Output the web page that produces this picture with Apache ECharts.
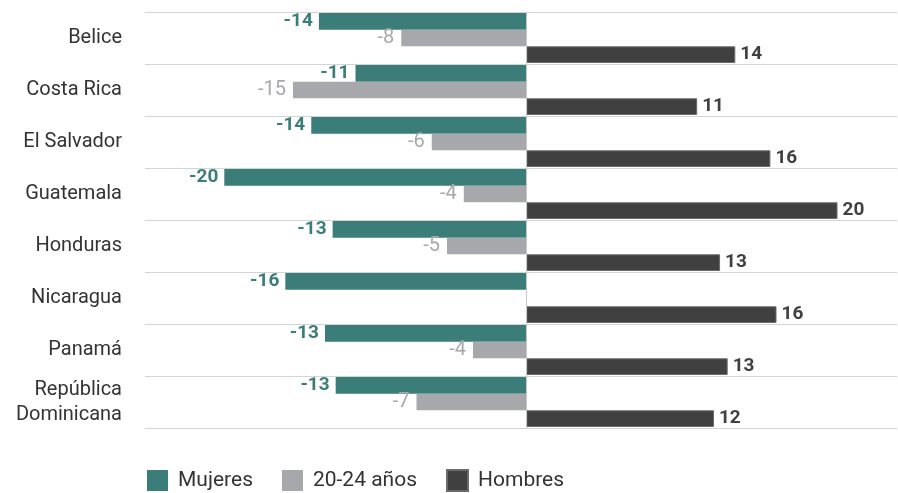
<!DOCTYPE html>
<html>
<head>
<meta charset="utf-8">
<script src="https://cdn.jsdelivr.net/npm/echarts@6/dist/echarts.min.js"></script>
<style>
html,body{margin:0;padding:0;background:#fff;}
#chart{width:898px;height:493px;}
</style>
</head>
<body>
<div id="chart"></div>
<script>
var categories = ['Belice', 'Costa Rica', 'El Salvador', 'Guatemala', 'Honduras', 'Nicaragua', 'Panamá', 'República\nDominicana'];
var mujeres = [-13.6, -11.2, -14.1, -19.8, -12.7, -15.8, -13.2, -12.5];
var jovenes = [-8.2, -15.3, -6.2, -4.1, -5.2, null, -3.5, -7.2];
var hombres = [13.7, 11.2, 16.0, 20.4, 12.7, 16.4, 13.2, 12.3];
var seriesNames = ['Mujeres', '20-24 años', 'Hombres'];

var FONT = 'Roboto';
var C_M = '#3b7d78', C_J = '#a7a8ab', C_H = '#404040';

function fmt(p) {
  var v = p.value;
  if (v == null) return '';
  var r = Math.round(Math.abs(v));
  return (v < 0 ? '-' : '') + r;
}

var chart = echarts.init(document.getElementById('chart'), null, {renderer: 'canvas'});
chart.setOption({
  animation: false,
  textStyle: {fontFamily: FONT},
  grid: {left: 145, right: 1, top: 12, bottom: 65, containLabel: false},
  legend: {
    data: seriesNames,
    left: 147, top: 469, padding: 0,
    icon: 'rect', itemWidth: 21, itemHeight: 21, itemGap: 29,
    textStyle: {fontFamily: FONT, fontSize: 21, color: '#333', padding: [0, 0, 0, 5]}
  },
  xAxis: {
    type: 'value', min: -25, max: 24.3,
    axisLabel: {show: false}, axisLine: {show: false}, axisTick: {show: false},
    splitLine: {show: false}
  },
  yAxis: {
    type: 'category', data: categories, inverse: true,
    axisLine: {show: false}, axisTick: {show: false},
    axisLabel: {fontFamily: FONT, fontSize: 20, color: '#333', margin: 23, lineHeight: 25, align: 'right', padding: [3, 0, 0, 0]},
    splitLine: {show: true, lineStyle: {color: '#d4d4d4', width: 1}}
  },
  series: [
    {
      name: seriesNames[0], type: 'bar', data: mujeres,
      barGap: '0%', barCategoryGap: '4%',
      itemStyle: {color: C_M},
      label: {show: true, position: 'left', distance: 6, formatter: fmt,
        fontFamily: FONT, fontSize: 19, fontWeight: 'bold', color: C_M},
      markLine: {
        silent: true, symbol: 'none', label: {show: false},
        lineStyle: {color: '#c8c8c8', width: 1, type: 'solid'},
        data: [{xAxis: 0}]
      }
    },
    {
      name: seriesNames[1], type: 'bar', data: jovenes,
      barGap: '0%', barCategoryGap: '4%',
      itemStyle: {color: C_J},
      label: {show: true, position: 'left', distance: 7, formatter: fmt,
        fontFamily: FONT, fontSize: 20, color: C_J}
    },
    {
      name: seriesNames[2], type: 'bar', data: hombres,
      barGap: '0%', barCategoryGap: '4%',
      itemStyle: {color: C_H, borderColor: '#6a6a6a', borderWidth: 1},
      label: {show: true, position: 'right', distance: 5, formatter: fmt,
        fontFamily: FONT, fontSize: 19, fontWeight: 'bold', color: C_H}
    }
  ]
});
</script>
</body>
</html>
